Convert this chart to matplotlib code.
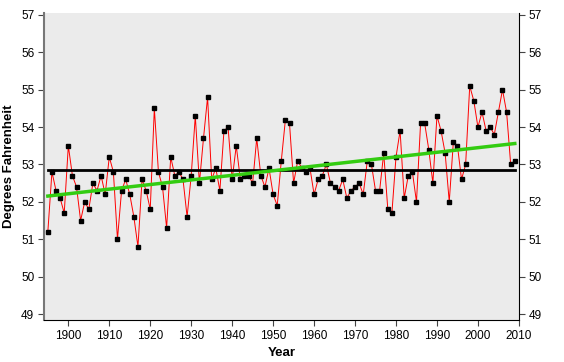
import numpy as np
import matplotlib
matplotlib.use("Agg")
import matplotlib.pyplot as plt

plt.rcParams['font.family'] = ['Liberation Sans', 'DejaVu Sans']

# Años (1895-2009)
years = list(range(1895, 2010))

# Temperatura media anual (grados Fahrenheit)
temps = [
    51.2, 52.8, 52.3, 52.1, 51.7,                                # 1895-1899
    53.5, 52.7, 52.4, 51.5, 52.0, 51.8, 52.5, 52.3, 52.7, 52.2,  # 1900-1909
    53.2, 52.8, 51.0, 52.3, 52.6, 52.2, 51.6, 50.8, 52.6, 52.3,  # 1910-1919
    51.8, 54.5, 52.8, 52.4, 51.3, 53.2, 52.7, 52.8, 52.6, 51.6,  # 1920-1929
    52.7, 54.3, 52.5, 53.7, 54.8, 52.6, 52.9, 52.3, 53.9, 54.0,  # 1930-1939
    52.6, 53.5, 52.6, 52.7, 52.7, 52.5, 53.7, 52.7, 52.4, 52.9,  # 1940-1949
    52.2, 51.9, 53.1, 54.2, 54.1, 52.5, 53.1, 52.9, 52.8, 52.9,  # 1950-1959
    52.2, 52.6, 52.7, 53.0, 52.5, 52.4, 52.3, 52.6, 52.1, 52.3,  # 1960-1969
    52.4, 52.5, 52.2, 53.1, 53.0, 52.3, 52.3, 53.3, 51.8, 51.7,  # 1970-1979
    53.2, 53.9, 52.1, 52.7, 52.8, 52.0, 54.1, 54.1, 53.4, 52.5,  # 1980-1989
    54.3, 53.9, 53.3, 52.0, 53.6, 53.5, 52.6, 53.0, 55.1, 54.7,  # 1990-1999
    54.0, 54.4, 53.9, 54.0, 53.8, 54.4, 55.0, 54.4, 53.0, 53.1,  # 2000-2009
]

x = np.array(years)
y = np.array(temps)

# Media y tendencia lineal
media = y.mean()
pend, corte = np.polyfit(x, y, 1)

fig = plt.figure(figsize=(5.64, 3.62), dpi=100)
ax = fig.add_axes([0.078, 0.116, 0.842, 0.848])
ax.set_facecolor('#ebebeb')

ax.plot(x, y, color='red', lw=0.7, zorder=2)
ax.plot(x, y, 's', color='black', ms=2.4, zorder=3)
ax.plot([x[0], x[-1]], [media, media], color='black', lw=2, zorder=4)
ax.plot(x, pend * x + corte, color='#33cc11', lw=2.5, zorder=5)

ax.set_xlim(1894.06, 2010)
ax.set_ylim(48.84, 57.05)
ax.set_xticks(range(1900, 2011, 10))
ax.set_yticks(range(49, 58))

ax.spines['top'].set_visible(False)
ax.spines['left'].set_color('#777777')
ax.spines['left'].set_linewidth(1.5)
ax.tick_params(axis='both', labelsize=8.5, length=4, color='#444444', pad=3)
ax.tick_params(axis='y', right=True, labelright=True)

ax.set_xlabel('Year', fontsize=9.5, fontweight='bold', labelpad=4)
ax.set_ylabel('Degrees Fahrenheit', fontsize=9.5, fontweight='bold', labelpad=4)

fig.savefig('out.png', dpi=100)
